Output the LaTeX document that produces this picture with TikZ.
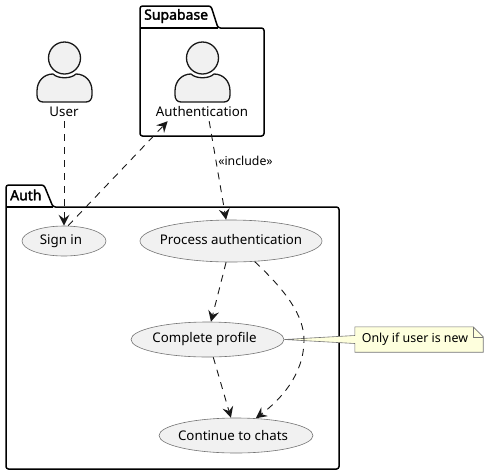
\documentclass[tikz,border=0pt]{standalone}
\usepackage{fontspec}
\setmainfont{Noto Sans}
\newfontfamily\titlefont{Noto Sans}[FakeBold=2.2]
\usetikzlibrary{arrows.meta,shapes.geometric}
\definecolor{inkdark}{HTML}{181818}
\definecolor{usecasefill}{HTML}{F1F1F1}
\definecolor{notefill}{HTML}{FEFFDD}
\newcommand{\slimtext}[2][0pt]{\makebox[0pt]{\hspace{#1}#2}}
\tikzset{
  usecase/.style={ellipse,draw=inkdark!60,fill=usecasefill,line width=0.6pt,inner sep=0pt,font=\fontsize{13.3}{16}\selectfont},
  caption/.style={inner sep=0pt,minimum height=18pt,font=\fontsize{13.3}{16}\selectfont},
  pkgtitle/.style={inner sep=0pt,anchor=west,font=\fontsize{14}{16}\titlefont},
  pkgline/.style={draw=black,line width=1.5pt,rounded corners=2.5pt},
  flow/.style={draw=inkdark,line width=0.9pt,dash pattern=on 7pt off 6pt,-{Stealth[length=11pt,width=11pt,inset=4pt,line width=0pt]}},
  actor/.pic={
    \draw[draw=inkdark,line width=1.3pt,fill=usecasefill] (0.5,-54) circle (16);
    \draw[draw=inkdark,line width=1.3pt,fill=usecasefill]
      (-21,-10) .. controls (-25,-10) and (-27,-13) .. (-27,-17) -- (-27,-21)
      .. controls (-27,-31) and (-20,-38) .. (-11,-38)
      .. controls (-6,-33) and (7,-33) .. (12,-38)
      .. controls (21,-38) and (28,-31) .. (28,-21) -- (28,-17)
      .. controls (28,-13) and (26,-10) .. (22,-10) -- cycle;
  }
}
\begin{document}
\begin{tikzpicture}[x=1pt,y=-1pt]
  \useasboundingbox (0,0) rectangle (488,475);

  % packages
  \draw[pkgline] (140,28) -- (140,6) -- (211,6) -- (218,28) -- (264,28) -- (264,136) -- (140,136) -- cycle;
  \draw[pkgline] (140,28) -- (218,28);
  \draw[pkgline] (6,207) -- (6,185) -- (44,185) -- (53,207) -- (339,207) -- (339,469) -- (6,469) -- cycle;
  \draw[pkgline] (6,207) -- (53,207);
  \node[pkgtitle] (supabase) at (144,16) {Supabase};
  \node[pkgtitle] (auth) at (10,195) {Auth};

  % actors
  \pic at (64,112) {actor};
  \pic at (202,112) {actor};
  \node[caption] (user) at (64,112) {User};
  \node[caption] (authentication) at (202,112) {Authentication};

  % use cases
  \node[usecase,minimum width=84pt,minimum height=30pt] (signin) at (64,241) {\slimtext[-6pt]{Sign in}};
  \node[usecase,minimum width=182pt,minimum height=42pt] (process) at (231,241) {\raisebox{3pt}{\slimtext{Process authentication}}};
  \node[usecase,minimum width=153pt,minimum height=35pt] (complete) at (207.5,339.5) {\slimtext[-6pt]{Complete profile}};
  \node[usecase,minimum width=154pt,minimum height=35pt] (chats) at (236,435.5) {\slimtext[-6pt]{Continue to chats}};

  % note
  \node[inner sep=0pt,minimum width=128pt,minimum height=25pt] (note) at (419,339.5) {};
  \draw[draw=inkdark!60,fill=notefill,line width=0.6pt]
    (note.north west) -- ([yshift=4pt]note.west) -- (complete.east) -- ([yshift=-4pt]note.west) -- (note.south west)
    -- (note.south east) -- ([yshift=-10pt]note.north east) -- ([xshift=-10pt]note.north east) -- cycle;
  \draw[draw=inkdark!60,line width=0.6pt] ([xshift=-10pt]note.north east) -- ([xshift=-10pt,yshift=-10pt]note.north east) -- ([yshift=-10pt]note.north east);
  \node[inner sep=0pt,font=\fontsize{12.4}{15}\selectfont] (notetext) at (415,339.5) {Only if user is new};

  % links
  \coordinate (bend) at (304,340);
  \path[flow] (user) -- (signin);
  \path[flow] (signin.75) -- (authentication.-165);
  \path[flow] (authentication.-52) -- (process.103);
  \path[flow] (process.-103) -- (complete.79);
  \path[flow] (complete.-72) -- (chats.106);
  \path[flow] (process.-41) .. controls (285,290) and (304,315) .. (bend) .. controls (304,375) and (280,400) .. (chats.41);
  \node[inner sep=0pt,font=\fontsize{12.3}{15}\selectfont] (include) at (245.5,160.5) {«include»};

\end{tikzpicture}
\end{document}
